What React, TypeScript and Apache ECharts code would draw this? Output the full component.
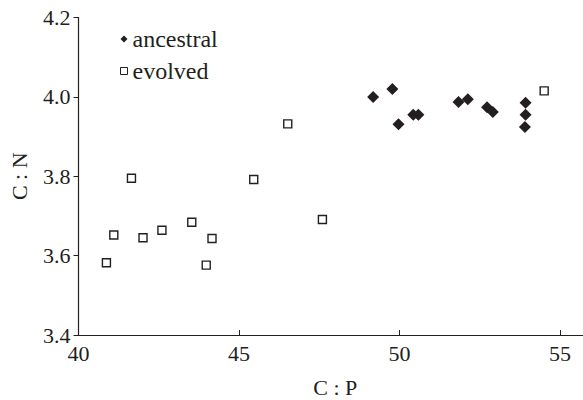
import React, { useEffect, useRef } from "react";
import * as echarts from "echarts";

const ancestralCP = [49.18, 49.78, 49.97, 50.43, 50.59, 51.84, 52.13, 52.73, 52.91, 53.93, 53.93, 53.91];
const ancestralCN = [4.0, 4.02, 3.931, 3.955, 3.955, 3.987, 3.994, 3.974, 3.962, 3.985, 3.955, 3.924];

const evolvedCP = [40.87, 41.1, 41.65, 42.01, 42.6, 43.53, 43.98, 44.16, 45.46, 46.52, 47.6, 54.51];
const evolvedCN = [3.582, 3.652, 3.795, 3.645, 3.664, 3.684, 3.576, 3.643, 3.792, 3.932, 3.691, 4.015];

const xTicks = [40, 45, 50, 55];
const seriesNames = ["ancestral", "evolved"];

const FONT = "Liberation Serif";
const INK = "#231f20";

export default function App() {
  const ref = useRef<HTMLDivElement>(null);
  useEffect(() => {
    if (!ref.current) return;
    const chart = echarts.init(ref.current, undefined, { renderer: "svg" });
    chart.setOption({
      animation: false,
      backgroundColor: "#ffffff",
      textStyle: { fontFamily: FONT, color: INK },
      grid: { left: 78.5, right: -9, top: 17.5, bottom: 65, outerBoundsMode: "none", containLabel: false },
      legend: {
        orient: "vertical",
        left: 115,
        top: 22,
        itemWidth: 7,
        itemHeight: 7,
        itemGap: 8,
        textStyle: { fontFamily: FONT, fontSize: 24, color: INK },
        data: [
          { name: seriesNames[0], icon: "diamond", itemStyle: { borderWidth: 0 } },
          { name: seriesNames[1], icon: "rect", itemStyle: { borderWidth: 1 } },
        ],
      },
      xAxis: {
        type: "value",
        min: 40,
        max: 56,
        interval: 5,
        name: "C : P",
        nameLocation: "middle",
        nameGap: 41,
        nameTextStyle: { fontFamily: FONT, fontSize: 22, color: INK },
        axisLine: { lineStyle: { color: INK, width: 1.2 } },
        axisTick: { inside: true, length: 5, lineStyle: { color: INK } },
        axisLabel: {
          fontFamily: FONT,
          fontSize: 22,
          color: INK,
          margin: 7,
          showMaxLabel: false,
          formatter: (v: number) => (xTicks.includes(v) ? String(v) : ""),
        },
        splitLine: { show: false },
      },
      yAxis: {
        type: "value",
        min: 3.4,
        max: 4.2,
        interval: 0.2,
        name: "C : N",
        nameLocation: "middle",
        nameGap: 48,
        nameRotate: 90,
        nameTextStyle: { fontFamily: FONT, fontSize: 22, color: INK },
        axisLine: { show: true, lineStyle: { color: INK, width: 1.2 } },
        axisTick: { show: true, inside: false, length: 5, lineStyle: { color: INK } },
        axisLabel: {
          fontFamily: FONT,
          fontSize: 22,
          color: INK,
          margin: 8,
          formatter: (v: number) => v.toFixed(1),
        },
        splitLine: { show: false },
      },
      series: [
        {
          name: seriesNames[0],
          type: "scatter",
          symbol: "diamond",
          symbolSize: 12,
          itemStyle: { color: INK, opacity: 1 },
          data: ancestralCP.map((x, i) => [x, ancestralCN[i]]),
        },
        {
          name: seriesNames[1],
          type: "scatter",
          symbol: "rect",
          symbolSize: 8,
          itemStyle: { color: "#ffffff", borderColor: INK, borderWidth: 1.4, opacity: 1 },
          data: evolvedCP.map((x, i) => [x, evolvedCN[i]]),
        },
      ],
    });
    return () => chart.dispose();
  }, []);
  return <div ref={ref} style={{ width: 583, height: 400, position: "absolute", left: 0, top: 0 }} />;
}
